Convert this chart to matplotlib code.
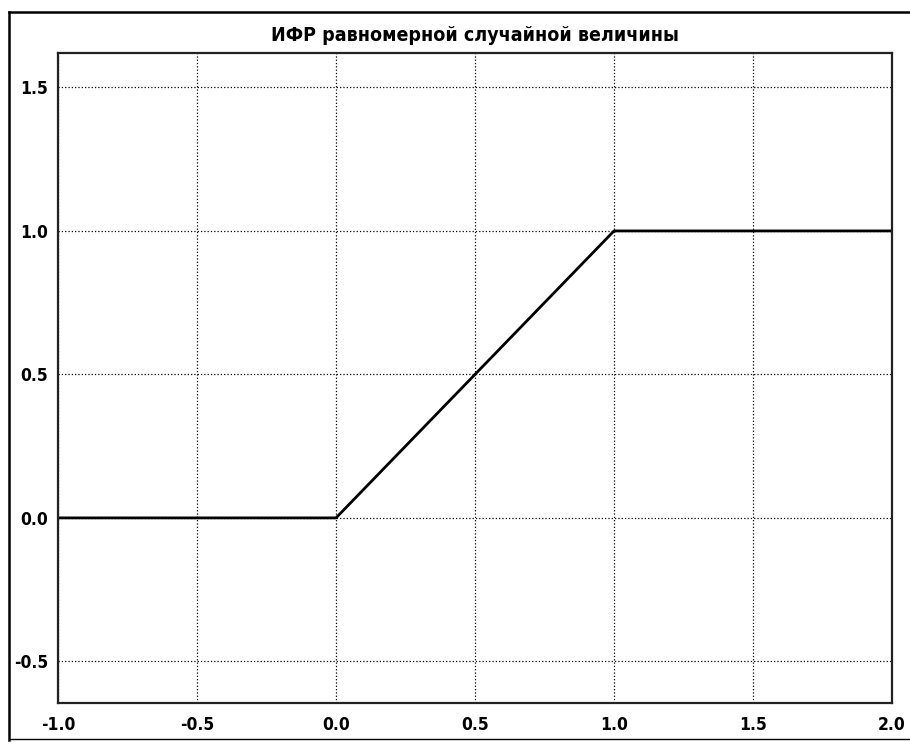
import matplotlib
matplotlib.use('Agg')
import matplotlib.pyplot as plt
from matplotlib.lines import Line2D

# CDF of the uniform random variable on [0, 1]
x = [-1.0, 0.0, 1.0, 2.0]
F = [0.0, 0.0, 1.0, 1.0]

xticks = [-1.0, -0.5, 0.0, 0.5, 1.0, 1.5, 2.0]
yticks = [-0.5, 0.0, 0.5, 1.0, 1.5]
title = 'ИФР равномерной случайной величины'

plt.rcParams['font.family'] = ['DejaVu Sans']
plt.rcParams['font.stretch'] = 'condensed'
plt.rcParams['axes.unicode_minus'] = False

fig = plt.figure(figsize=(9.1, 7.42), dpi=100)
ax = fig.add_axes([58 / 910, 1 - 703 / 742, (892 - 58) / 910, (703 - 53) / 742])

ax.plot(x, F, color='black', linewidth=2)
ax.set_xlim(-1.0, 2.0)
ax.set_ylim(-0.645, 1.62)
ax.set_xticks(xticks)
ax.set_yticks(yticks)
ax.set_xticklabels([f'{t:.1f}' for t in xticks])
ax.set_yticklabels([f'{t:.1f}' for t in yticks])
ax.tick_params(length=0, labelsize=12.5)
ax.tick_params(axis='x', pad=9)
ax.tick_params(axis='y', pad=7)
for lbl in ax.get_xticklabels() + ax.get_yticklabels():
    lbl.set_fontweight('bold')
ax.grid(True, color='black', linestyle=':', linewidth=0.9)
for s in ax.spines.values():
    s.set_linewidth(1.6)
    s.set_color('#222222')

ax.set_title(title, fontsize=14, fontweight='bold', pad=9)

# page frame around the figure
fig.add_artist(Line2D([9 / 910, 9 / 910], [1 - 12 / 742, 1 - 740 / 742],
                      transform=fig.transFigure, color='black', linewidth=1.8))
fig.add_artist(Line2D([9 / 910, 1.0], [1 - 12 / 742, 1 - 12 / 742],
                      transform=fig.transFigure, color='black', linewidth=1.8))
fig.add_artist(Line2D([9 / 910, 1.0], [1 - 739 / 742, 1 - 739 / 742],
                      transform=fig.transFigure, color='black', linewidth=1.0))

fig.savefig('out.png', dpi=100)
